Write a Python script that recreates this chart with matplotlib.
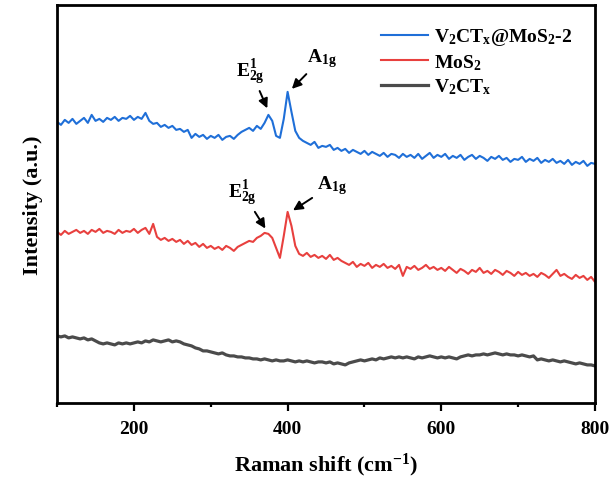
import numpy as np
import matplotlib.pyplot as plt
from matplotlib.ticker import MultipleLocator

# Raman shift grid (cm-1), one value every 5 cm-1
shift = np.arange(100, 805, 5)

# V2CTx@MoS2-2 (offset, a.u.)
composite = [
    282, 279, 284, 281, 285, 280, 283, 286, 281, 289,
    283, 285, 282, 286, 284, 287, 283, 286, 285, 288,
    284, 287, 285, 291, 283, 280, 281, 277, 279, 276,
    278, 274, 275, 272, 274, 266, 270, 267, 269, 265,
    268, 266, 269, 264, 267, 268, 265, 269, 272, 274,
    276, 273, 278, 275, 281, 289, 283, 268, 266, 285,
    312, 292, 273, 266, 263, 261, 259, 262, 256, 258,
    257, 259, 254, 256, 253, 255, 251, 254, 252, 250,
    253, 249, 252, 250, 248, 251, 247, 250, 249, 246,
    250, 247, 249, 246, 250, 245, 248, 251, 246, 249,
    247, 250, 245, 248, 246, 249, 244, 247, 249, 245,
    248, 246, 243, 247, 245, 248, 244, 246, 242, 245,
    244, 247, 242, 245, 243, 246, 241, 244, 242, 245,
    241, 243, 240, 244, 239, 242, 240, 243, 238, 241,
    240,
]

# MoS2
mos2 = [
    172, 169, 173, 170, 172, 174, 171, 173, 170, 174,
    172, 175, 171, 173, 172, 170, 174, 171, 173, 172,
    175, 171, 174, 176, 170, 180, 167, 164, 166, 163,
    165, 162, 164, 160, 163, 159, 161, 157, 160, 156,
    158, 155, 157, 154, 158, 156, 153, 157, 159, 161,
    163, 162, 166, 168, 171, 170, 166, 156, 146, 168,
    192, 178, 158, 150, 148, 151, 147, 149, 146, 148,
    145, 149, 144, 146, 143, 141, 139, 142, 137, 140,
    138, 141, 136, 139, 137, 140, 136, 138, 135, 139,
    128, 137, 135, 138, 134, 136, 139, 135, 137, 134,
    136, 133, 137, 134, 131, 135, 133, 130, 134, 132,
    136, 131, 133, 130, 134, 132, 129, 133, 131, 128,
    132, 129, 131, 128, 130, 127, 131, 129, 126, 130,
    134, 128, 130, 127, 125, 129, 126, 128, 124, 127,
    122,
]

# V2CTx
v2ctx = [
    68, 67, 68, 66, 67, 66, 65, 66, 64, 65,
    63, 61, 60, 61, 60, 59, 61, 60, 61, 60,
    61, 62, 61, 63, 62, 64, 63, 62, 63, 64,
    62, 63, 62, 60, 59, 58, 56, 55, 53, 53,
    52, 51, 50, 51, 49, 48, 48, 47, 47, 46,
    46, 45, 45, 44, 45, 44, 43, 44, 43, 43,
    44, 43, 42, 43, 42, 43, 42, 41, 42, 42,
    41, 42, 40, 41, 40, 39, 41, 42, 43, 44,
    43, 44, 45, 44, 46, 45, 46, 47, 46, 47,
    46, 47, 46, 45, 47, 46, 47, 48, 47, 46,
    47, 46, 47, 46, 45, 47, 48, 49, 48, 49,
    49, 50, 49, 50, 51, 50, 49, 50, 49, 49,
    48, 49, 48, 47, 48, 44, 45, 44, 43, 44,
    43, 42, 43, 42, 41, 40, 41, 40, 39, 39,
    38,
]

plt.rcParams["font.family"] = "Liberation Serif"
plt.rcParams["font.weight"] = "bold"
plt.rcParams["mathtext.fontset"] = "custom"
plt.rcParams["mathtext.rm"] = "Liberation Serif:bold"
plt.rcParams["mathtext.bf"] = "Liberation Serif:bold"
plt.rcParams["mathtext.it"] = "Liberation Serif:bold"

fig = plt.figure(figsize=(6.14, 4.89), dpi=100)
ax = fig.add_axes([0.093, 0.174, 0.876, 0.814])

ax.plot(shift, composite, color="#1f6fd8", lw=1.5,
        label=r"$\mathrm{V_2CT_x@MoS_2}$-2")
ax.plot(shift, mos2, color="#e8403e", lw=1.5, label=r"$\mathrm{MoS_2}$")
ax.plot(shift, v2ctx, color="#4b4b4b", lw=2.3, label=r"$\mathrm{V_2CT_x}$")

arrow = dict(arrowstyle="-|>", color="k", lw=1.4, mutation_scale=14)
e2g = r"$\mathrm{E}^{1}_{2g}$"
a1g = r"$\mathrm{A}_{1g}$"
ax.annotate(e2g, xy=(375, 293), xytext=(352, 333), fontsize=14,
            ha="center", va="center", arrowprops=arrow)
ax.annotate(a1g, xy=(403, 313), xytext=(445, 346), fontsize=14,
            ha="center", va="center", arrowprops=arrow)
ax.annotate(e2g, xy=(373, 173), xytext=(341, 212), fontsize=14,
            ha="center", va="center", arrowprops=arrow)
ax.annotate(a1g, xy=(404, 192), xytext=(458, 219), fontsize=14,
            ha="center", va="center", arrowprops=arrow)

ax.set_xlim(100, 800)
ax.set_ylim(1, 399)
ax.set_yticks([])
ax.xaxis.set_major_locator(MultipleLocator(200))
ax.xaxis.set_minor_locator(MultipleLocator(100))
ax.tick_params(axis="x", which="major", direction="out", length=6,
               width=1.6, labelsize=14, pad=6)
ax.tick_params(axis="x", which="minor", direction="out", length=3,
               width=1.6)
for s in ax.spines.values():
    s.set_linewidth(2)

ax.set_xlabel(r"Raman shift (cm$^{-1}$)", fontsize=16, fontweight="bold",
              labelpad=10)
ax.set_ylabel("Intensity (a.u.)", fontsize=16, fontweight="bold", labelpad=10)

ax.legend(loc="upper right", frameon=False, fontsize=14, handlelength=2.4,
          handletextpad=0.3, labelspacing=0.25,
          bbox_to_anchor=(0.99, 0.99))

fig.savefig("out.png", dpi=100)
